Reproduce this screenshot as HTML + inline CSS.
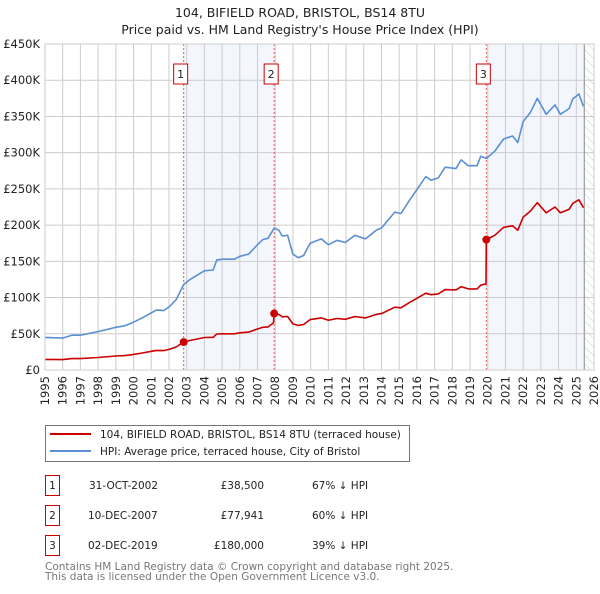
<!DOCTYPE html>
<html><head><meta charset="utf-8"><style>
body{margin:0;background:#fff;font-family:"DejaVu Sans","Liberation Sans",sans-serif;}
svg text{font-family:"DejaVu Sans","Liberation Sans",sans-serif;}
</style></head><body>
<svg id="chart" width="600" height="590" viewBox="0 0 600 590" xmlns="http://www.w3.org/2000/svg">
<defs><pattern id="hatch" width="6" height="6" patternUnits="userSpaceOnUse" patternTransform="rotate(-45)"><line x1="0" y1="0" x2="0" y2="6" stroke="#ccc" stroke-width="1"/></pattern></defs>
<text x="300" y="17" text-anchor="middle" font-size="12.5" fill="#222">104, BIFIELD ROAD, BRISTOL, BS14 8TU</text>
<text x="300" y="34" text-anchor="middle" font-size="12.5" fill="#222">Price paid vs. HM Land Registry's House Price Index (HPI)</text>
<g id="plot"></g>
<g>
<rect x="45.5" y="425.5" width="364" height="36" fill="#fff" stroke="#777"/>
<line x1="50" y1="434" x2="91" y2="434" stroke="#cc0000" stroke-width="2"/>
<text x="100" y="438" font-size="10.5" fill="#222">104, BIFIELD ROAD, BRISTOL, BS14 8TU (terraced house)</text>
<line x1="50" y1="451" x2="91" y2="451" stroke="#5b8fd4" stroke-width="2"/>
<text x="100" y="455" font-size="10.5" fill="#222">HPI: Average price, terraced house, City of Bristol</text>
</g>
<g font-size="10.5" fill="#222">
<rect x="45.5" y="475.5" width="14" height="20" fill="#fff" stroke="#cc0000"/><text x="52.5" y="489" text-anchor="middle">1</text>
<text x="89" y="489">31-OCT-2002</text><text x="264" y="489" text-anchor="end">£38,500</text><text x="312" y="489">67% ↓ HPI</text>
<rect x="45.5" y="505.5" width="14" height="20" fill="#fff" stroke="#cc0000"/><text x="52.5" y="519" text-anchor="middle">2</text>
<text x="88" y="519">10-DEC-2007</text><text x="264" y="519" text-anchor="end">£77,941</text><text x="312" y="519">60% ↓ HPI</text>
<rect x="45.5" y="535.5" width="14" height="20" fill="#fff" stroke="#cc0000"/><text x="52.5" y="549" text-anchor="middle">3</text>
<text x="88" y="549">02-DEC-2019</text><text x="264" y="549" text-anchor="end">£180,000</text><text x="312" y="549">39% ↓ HPI</text>
</g>
<text x="45" y="570" font-size="10.5" fill="#777">Contains HM Land Registry data © Crown copyright and database right 2025.</text>
<text x="45" y="580" font-size="10.5" fill="#777">This data is licensed under the Open Government Licence v3.0.</text>
</svg>
<script>
const hpiYears=[1995.0,1996.0,1996.5,1997.0,1998.0,1999.0,1999.5,2000.0,2000.5,2001.0,2001.3,2001.7,2002.0,2002.4,2002.83,2003.2,2003.6,2004.0,2004.5,2004.7,2005.0,2005.7,2006.0,2006.5,2007.0,2007.3,2007.6,2007.94,2008.2,2008.4,2008.7,2009.0,2009.3,2009.6,2009.97,2010.6,2011.0,2011.5,2011.95,2012.5,2013.1,2013.7,2014.0,2014.75,2015.1,2015.6,2016.0,2016.5,2016.8,2017.2,2017.6,2018.2,2018.5,2018.9,2019.4,2019.6,2019.92,2020.4,2020.9,2021.4,2021.7,2022.0,2022.4,2022.8,2023.3,2023.8,2024.1,2024.6,2024.8,2025.15,2025.4];
const hpiValues=[45,44,48,48,53,59,61,66,72,79,83,82,87,97,118,125,131,137,138,152,153,153,157,160,173,180,182,196,193,185,186,160,155,158,175,181,173,179,176,186,181,193,196,218,216,235,249,267,262,265,280,278,290,282,282,295,292,302,319,323,314,343,355,375,353,366,353,361,374,381,364];
const redYears=[1995.0,1996.0,1996.5,1997.0,1998.0,1999.0,1999.5,2000.0,2000.5,2001.0,2001.3,2001.7,2002.0,2002.4,2002.83,2003.2,2003.6,2004.0,2004.5,2004.7,2005.0,2005.7,2006.0,2006.5,2007.0,2007.3,2007.6,2007.9,2007.94,2008.2,2008.4,2008.7,2009.0,2009.3,2009.6,2009.97,2010.6,2011.0,2011.5,2011.95,2012.5,2013.1,2013.7,2014.0,2014.75,2015.1,2015.6,2016.0,2016.5,2016.8,2017.2,2017.6,2018.2,2018.5,2018.9,2019.4,2019.6,2019.9,2019.92,2020.4,2020.9,2021.4,2021.7,2022.0,2022.4,2022.8,2023.3,2023.8,2024.1,2024.6,2024.8,2025.15,2025.4];
const redValues=[14.7,14.4,15.7,15.7,17.3,19.3,19.9,21.6,23.5,25.8,27.1,26.8,28.4,31.7,38.5,40.9,42.8,44.8,45.1,49.7,50.0,50.0,51.3,52.3,56.6,58.9,59.5,65,77.9,76.7,73.5,73.9,63.6,61.6,62.8,69.6,71.9,68.8,71.1,70,73.9,71.9,76.7,77.9,86.7,85.9,93.4,99,106,104,105,111,110.5,115,112,112,117,119,180,186,197,199,193,211,219,231,217,225,217,222,230,235,224];
const saleYears=[2002.83,2007.94,2019.92];
const saleValues=[38.5,77.941,180];
const saleLabels=["1","2","3"];
const yTicks=[0,50,100,150,200,250,300,350,400,450];
const yTickLabels=["£0","£50K","£100K","£150K","£200K","£250K","£300K","£350K","£400K","£450K"];
const xTicks=[1995,1996,1997,1998,1999,2000,2001,2002,2003,2004,2005,2006,2007,2008,2009,2010,2011,2012,2013,2014,2015,2016,2017,2018,2019,2020,2021,2022,2023,2024,2025,2026];
const dataEnd=2025.45;

const X0=45,X1=594,Y0=370,Y1=44;
const xs=y=>X0+(y-1995)/(2026-1995)*(X1-X0);
const ys=v=>Y0-v/450*(Y0-Y1);
const NS="http://www.w3.org/2000/svg";
const g=document.getElementById('plot');
function mk(tag,attrs,parent){const e=document.createElementNS(NS,tag);for(const k in attrs)e.setAttribute(k,attrs[k]);(parent||g).appendChild(e);return e;}

let r=mk('rect',{x:xs(saleYears[0]),y:Y1,width:xs(saleYears[1])-xs(saleYears[0]),height:Y0-Y1,fill:'#eef3fc',opacity:0.7});


r=mk('rect',{x:xs(saleYears[2]),y:Y1,width:xs(dataEnd)-xs(saleYears[2]),height:Y0-Y1,fill:'#eef3fc',opacity:0.7});


r=mk('rect',{x:xs(dataEnd),y:Y1,width:X1-xs(dataEnd),height:Y0-Y1,fill:'url(#hatch)'});



xTicks.forEach(t=>{const l=mk('line',{x1:xs(t),x2:xs(t),y1:Y1,y2:Y0,stroke:'#ccc','stroke-width':1});


const tx=mk('text',{x:0,y:0,transform:`translate(${xs(t)+4},${Y0+6}) rotate(-90)`,'text-anchor':'end','font-size':11.5,fill:'#222'});
tx.textContent=t;

});
yTicks.forEach((t,i)=>{const l=mk('line',{x1:X0,x2:X1,y1:ys(t),y2:ys(t),stroke:'#ccc','stroke-width':1});


const tx=mk('text',{x:40,y:ys(t)+4,'text-anchor':'end','font-size':11.5,fill:'#222'});
tx.textContent=yTickLabels[i];

});
let edge=mk('line',{x1:xs(dataEnd),x2:xs(dataEnd),y1:Y1,y2:Y0,stroke:'#888','stroke-width':1});



saleYears.forEach((s,i)=>{const l=mk('line',{x1:xs(s),x2:xs(s),y1:Y1,y2:Y0,stroke:'#ee5555','stroke-width':1,'stroke-dasharray':'2,2'});

});

function path(xa,va){return xa.map((y,i)=>(i?'L':'M')+xs(y).toFixed(1)+','+ys(va[i]).toFixed(1)).join('');}
let p=mk('path',{d:path(hpiYears,hpiValues),fill:'none',stroke:'#5b8fd4','stroke-width':1.6,'stroke-linejoin':'round'});


p=mk('path',{d:path(redYears,redValues),fill:'none',stroke:'#cc0000','stroke-width':1.6,'stroke-linejoin':'round'});



saleYears.forEach((s,i)=>{const c=mk('circle',{cx:xs(s),cy:ys(saleValues[i]),r:4,fill:'#cc0000'});


const bx=xs(s)+4-14;
const b=mk('rect',{x:bx,y:64,width:14,height:20,fill:'#fff',stroke:'#cc0000'});


const t=mk('text',{x:bx+7,y:78,'text-anchor':'middle','font-size':11,fill:'#222'});
t.textContent=saleLabels[i];

});
let fr=mk('rect',{x:X0,y:Y1,width:X1-X0,height:Y0-Y1,fill:'none',stroke:'#ccc'});


</script>
</body></html>
